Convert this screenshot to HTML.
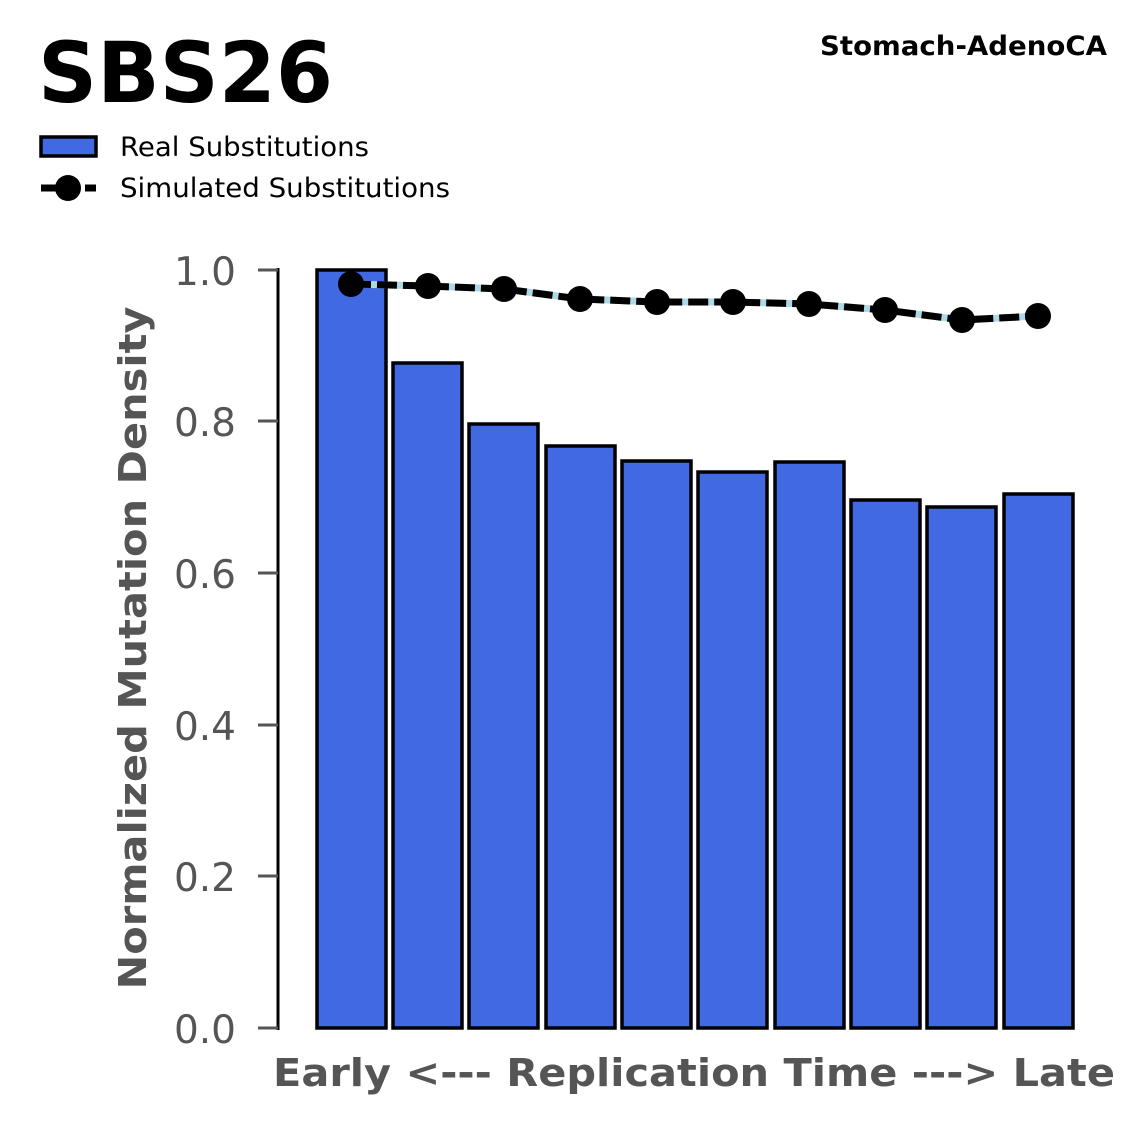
<!DOCTYPE html>
<html><head><meta charset="utf-8"><style>html,body{margin:0;padding:0;background:#fff}svg{display:block}</style></head>
<body>
<svg width="1147" height="1125" viewBox="0 0 1147 1125" xmlns="http://www.w3.org/2000/svg" font-family="DejaVu Sans, Liberation Sans, sans-serif">
<text x="38" y="102" font-size="84" font-weight="bold" fill="#000" textLength="295" lengthAdjust="spacingAndGlyphs">SBS26</text>
<text x="1107" y="55" font-size="27" font-weight="bold" fill="#000" text-anchor="end" textLength="287" lengthAdjust="spacingAndGlyphs">Stomach-AdenoCA</text>
<rect x="41" y="137" width="55" height="19" fill="#4169e1" stroke="#000" stroke-width="3.5"/>
<text x="120" y="156" font-size="27" fill="#000" textLength="249" lengthAdjust="spacingAndGlyphs">Real Substitutions</text>
<line x1="41" y1="188" x2="96" y2="188" stroke="#000" stroke-width="7" stroke-dasharray="16,6"/>
<circle cx="68" cy="188" r="13" fill="#000"/>
<text x="120" y="197" font-size="27" fill="#000" textLength="330" lengthAdjust="spacingAndGlyphs">Simulated Substitutions</text>
<line x1="278" y1="268" x2="278" y2="1030" stroke="#000" stroke-width="3"/>
<g stroke="#555" stroke-width="3">
<line x1="258" y1="1028" x2="278" y2="1028"/><line x1="258" y1="876" x2="278" y2="876"/><line x1="258" y1="725" x2="278" y2="725"/><line x1="258" y1="573" x2="278" y2="573"/><line x1="258" y1="421" x2="278" y2="421"/><line x1="258" y1="270" x2="278" y2="270"/>
</g>
<g font-size="39" fill="#555" text-anchor="end">
<text x="236" y="1043">0.0</text><text x="236" y="891">0.2</text><text x="236" y="740">0.4</text><text x="236" y="588">0.6</text><text x="236" y="436">0.8</text><text x="236" y="285">1.0</text>
</g>
<text transform="translate(146,648) rotate(-90)" font-size="38" font-weight="bold" fill="#555" text-anchor="middle" textLength="683" lengthAdjust="spacingAndGlyphs">Normalized Mutation Density</text>
<text x="694" y="1086" font-size="38" font-weight="bold" fill="#555" text-anchor="middle" textLength="842" lengthAdjust="spacingAndGlyphs">Early &lt;--- Replication Time ---&gt; Late</text>
<g fill="#4169e1" stroke="#000" stroke-width="3.5">
<rect x="317" y="270" width="69" height="758"/>
<rect x="393" y="363" width="69" height="665"/>
<rect x="469" y="424" width="69" height="604"/>
<rect x="546" y="446" width="69" height="582"/>
<rect x="622" y="461" width="69" height="567"/>
<rect x="698" y="472" width="69" height="556"/>
<rect x="775" y="462" width="69" height="566"/>
<rect x="851" y="500" width="69" height="528"/>
<rect x="927" y="507" width="69" height="521"/>
<rect x="1004" y="494" width="69" height="534"/>
</g>
<polyline points="351,284 428,286 504,289 580,299 657,302 733,302 809,304 885,310 962,320 1038,316" fill="none" stroke="#add8e6" stroke-width="7"/>
<polyline points="351,284 428,286 504,289 580,299 657,302 733,302 809,304 885,310 962,320 1038,316" fill="none" stroke="#000" stroke-width="7" stroke-dasharray="20,6"/>
<g fill="#000">
<circle cx="351" cy="284" r="13"/><circle cx="428" cy="286" r="13"/><circle cx="504" cy="289" r="13"/><circle cx="580" cy="299" r="13"/><circle cx="657" cy="302" r="13"/><circle cx="733" cy="302" r="13"/><circle cx="809" cy="304" r="13"/><circle cx="885" cy="310" r="13"/><circle cx="962" cy="320" r="13"/><circle cx="1038" cy="316" r="13"/>
</g>
</svg>
</body></html>
